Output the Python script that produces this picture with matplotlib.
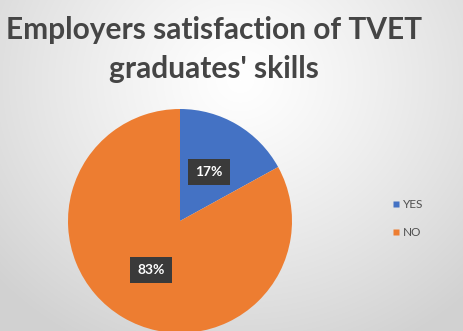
import numpy as np
import matplotlib.pyplot as plt
from matplotlib.lines import Line2D

# satisfaction survey shares
labels = ["YES", "NO"]
shares = [17, 83]
colors = ["#4472C4", "#ED7D31"]
title = "Employers satisfaction of TVET\ngraduates' skills"

W, H = 463, 331
fig = plt.figure(figsize=(W / 100, H / 100), dpi=100)

# soft radial background, light at the top, grey towards the corners
bg = fig.add_axes([0, 0, 1, 1])
yy, xx = np.mgrid[0:H, 0:W]
r = np.hypot((xx - 240) / 330.0, (yy - 80) / 300.0)
shade = 1.0 - 0.18 * np.clip(r, 0, 1) ** 1.2
bg.imshow(np.dstack([shade, shade, shade]), extent=[0, W, H, 0], aspect="auto")
bg.axis("off")

# pie, 12 o'clock start, clockwise
cx, cy, rad = 180, 221, 112
ax = fig.add_axes([(cx - rad) / W, (H - cy - rad) / H, 2 * rad / W, 2 * rad / H])
wedges, _, autotexts = ax.pie(
    shares, colors=colors, startangle=90, counterclock=False,
    autopct="%d%%", pctdistance=0.51,
    wedgeprops=dict(linewidth=0),
    textprops=dict(color="white", fontsize=10, fontweight="bold", family="Lato"),
)
for t in autotexts:
    t.set_bbox(dict(boxstyle="square,pad=0.5", facecolor="#3a3a3a", edgecolor="none"))
ax.set_xlim(-1, 1)
ax.set_ylim(-1, 1)
ax.set_aspect("equal")

fig.text(0.462, 0.85, title, ha="center", va="center", fontsize=21.5,
         fontweight="bold", family="Lato", color="#454545", linespacing=1.45)

handles = [Line2D([], [], marker="s", linestyle="none", markersize=5,
                  markerfacecolor=c, markeredgecolor="none") for c in colors]
fig.legend(handles, labels, loc="center left", bbox_to_anchor=(0.825, 0.34),
           frameon=False, handlelength=0.6, handletextpad=0.3,
           labelspacing=1.4, labelcolor="#505050",
           prop=dict(family="Lato", size=8.5))

fig.savefig("out.png", dpi=100)
